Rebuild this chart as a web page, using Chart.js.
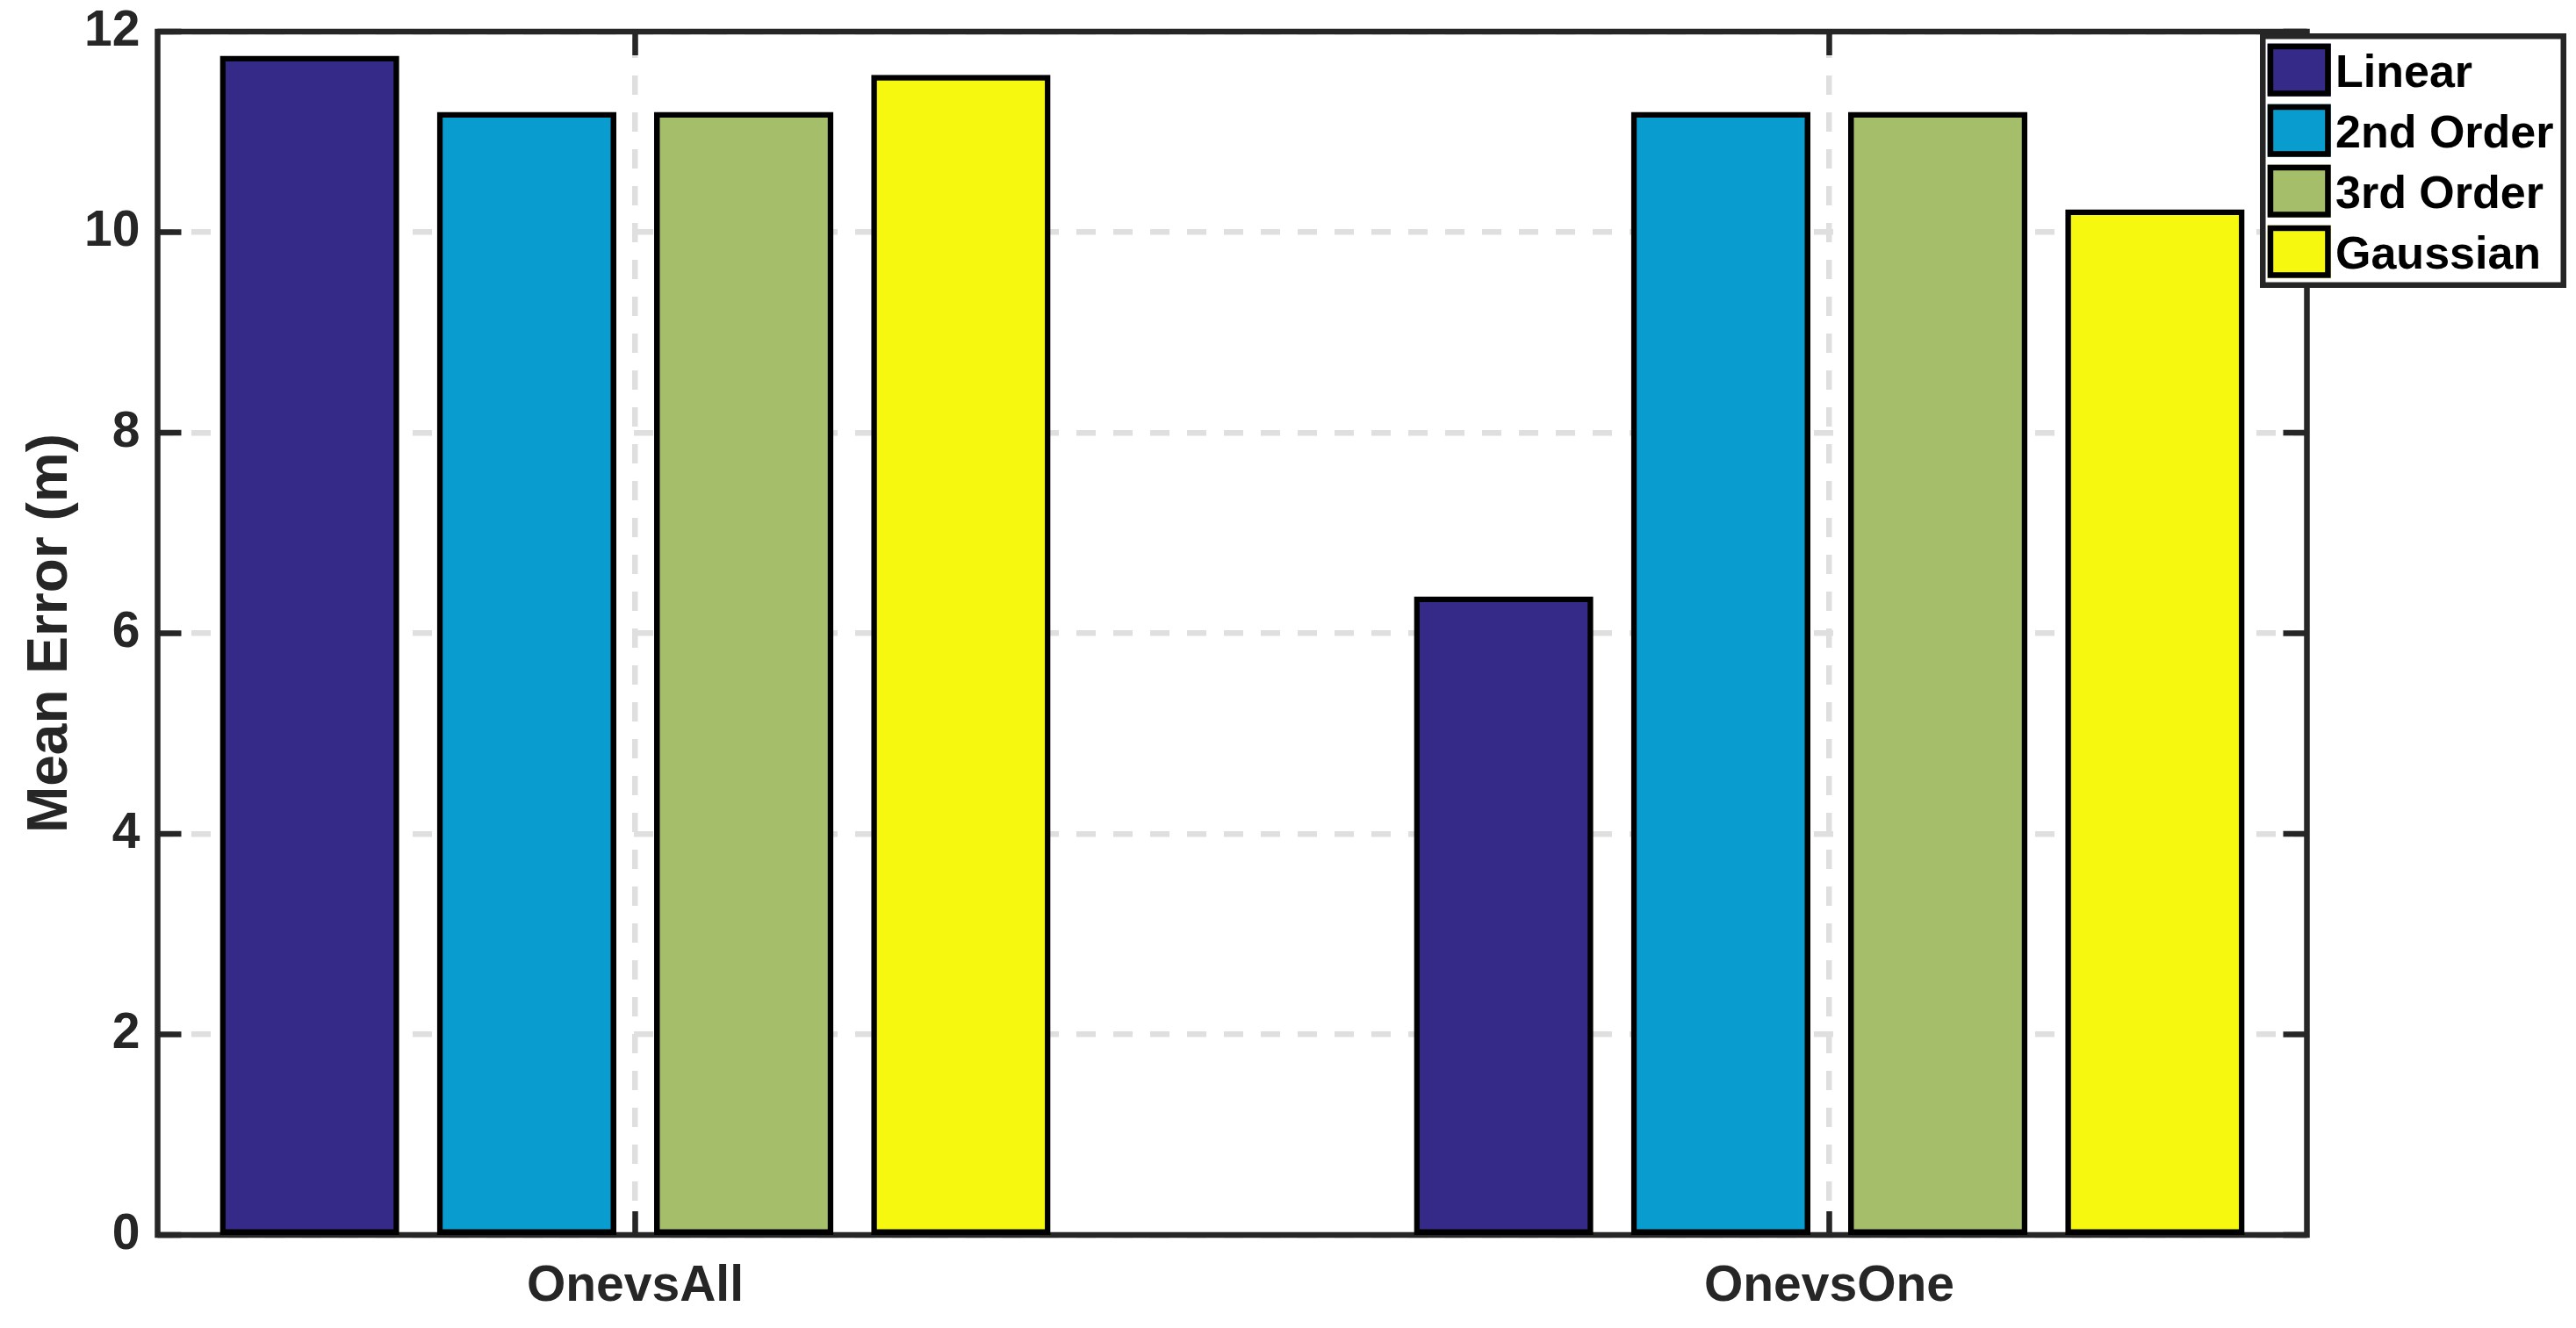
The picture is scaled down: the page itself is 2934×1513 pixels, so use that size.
<!DOCTYPE html>
<html>
<head>
<meta charset="utf-8">
<script src="https://cdn.jsdelivr.net/npm/chart.js@4.4.1/dist/chart.umd.min.js"></script>
<style>
  html, body { margin: 0; padding: 0; background: #fff; }
  #wrap { width: 2934px; height: 1513px; }
</style>
</head>
<body>
<div id="wrap"><canvas id="chart" width="2934" height="1513"></canvas></div>
<script>
// data
const categories = ["OnevsAll", "OnevsOne"]
const categoryPos = [1, 2]
const seriesNames = ["Linear", "2nd Order", "3rd Order", "Gaussian"]
const linearErr = [11.73, 6.34]
const order2Err = [11.17, 11.17]
const order3Err = [11.17, 11.17]
const gaussianErr = [11.54, 10.20]
const seriesColors = ["#352a87", "#089dce", "#a5be6a", "#f6f90f"]
const yTicks = [0, 2, 4, 6, 8, 10, 12]

const FONT = "'Liberation Sans', Arial, Helvetica, sans-serif"
const AXIS = "#262626"
const tickLen = 27

function toPoints(values) {
    return values.map((v, i) => ({ x: categoryPos[i], y: v }))
}

const allSeries = [linearErr, order2Err, order3Err, gaussianErr]

// matlab style box with inward ticks
const axesFrame = {
    id: "axesFrame",
    beforeDatasetsDraw(chart) {
        const { ctx, chartArea: a, scales } = chart
        ctx.save()
        ctx.strokeStyle = AXIS
        ctx.lineWidth = 6.5
        ctx.beginPath()
        yTicks.forEach(v => {
            let y = scales.y.getPixelForValue(v)
            ctx.moveTo(a.left, y); ctx.lineTo(a.left + tickLen, y)
            ctx.moveTo(a.right, y); ctx.lineTo(a.right - tickLen, y)
        })
        categoryPos.forEach(v => {
            let x = scales.x.getPixelForValue(v)
            ctx.moveTo(x, a.top); ctx.lineTo(x, a.top + tickLen)
            ctx.moveTo(x, a.bottom); ctx.lineTo(x, a.bottom - tickLen)
        })
        ctx.stroke()
        ctx.lineJoin = "miter"
        ctx.strokeRect(a.left, a.top, a.right - a.left, a.bottom - a.top)
        ctx.restore()
    }
}

// legend box sitting on the top right corner
const boxLegend = {
    id: "boxLegend",
    afterDraw(chart) {
        const { ctx, chartArea: a } = chart
        const x0 = a.right - 53.5, y0 = a.top + 2
        const w = 349, h = 290
        ctx.save()
        ctx.fillStyle = "#fff"
        ctx.fillRect(x0, y0, w, h)
        ctx.strokeStyle = AXIS
        ctx.lineWidth = 6.5
        ctx.strokeRect(x0 + 3.25, y0 + 3.25, w - 6.5, h - 6.5)
        ctx.font = "bold 52px " + FONT
        ctx.textBaseline = "middle"
        ctx.textAlign = "left"
        chart.data.datasets.forEach((ds, i) => {
            let sx = x0 + 8.7, sy = y0 + 11.7 + i * 69
            ctx.fillStyle = ds.backgroundColor
            ctx.fillRect(sx, sy, 72, 60)
            ctx.strokeStyle = "#000"
            ctx.lineWidth = 6.5
            ctx.strokeRect(sx + 3.25, sy + 3.25, 72 - 6.5, 60 - 6.5)
            ctx.fillStyle = "#000"
            ctx.fillText(ds.label, x0 + 86, sy + 35)
        })
        ctx.restore()
    }
}

const chart = new Chart(document.getElementById("chart").getContext("2d"), {
    type: "bar",
    data: {
        datasets: seriesNames.map((name, i) => ({
            label: name,
            data: toPoints(allSeries[i]),
            backgroundColor: seriesColors[i],
            borderColor: "#000",
            borderWidth: 6.5,
            borderSkipped: false,
            inflateAmount: 3.25,
            categoryPercentage: 4 / 5.5,
            barPercentage: 0.8
        }))
    },
    options: {
        responsive: false,
        devicePixelRatio: 1,
        animation: false,
        layout: { padding: { left: 0, top: 36, right: 306.5, bottom: 0 } },
        plugins: {
            legend: { display: false },
            tooltip: { enabled: false }
        },
        scales: {
            x: {
                type: "linear",
                offset: false,
                min: 0.6,
                max: 2.4,
                afterBuildTicks: (scale) => {
                    scale.ticks = categoryPos.map(v => ({ value: v }))
                },
                afterFit: (scale) => { scale.height = 106 },
                grid: { offset: false, color: "#dfdfdf", lineWidth: 6.5, drawTicks: false },
                border: { display: false, dash: [22, 20], dashOffset: 34 },
                ticks: {
                    padding: 25,
                    color: AXIS,
                    font: { family: FONT, size: 57, weight: "bold" },
                    callback: (value) => categories[categoryPos.indexOf(value)]
                }
            },
            y: {
                min: 0,
                max: 12,
                afterBuildTicks: (scale) => {
                    scale.ticks = yTicks.map(v => ({ value: v }))
                },
                afterFit: (scale) => {
                    scale.width = 179.5
                    // the tick padding is horizontal only, do not push the plot down
                    scale.paddingTop = 0
                    scale.paddingBottom = 0
                },
                grid: { color: "#dfdfdf", lineWidth: 6.5, drawTicks: false },
                border: { display: false, dash: [22, 20], dashOffset: 4 },
                ticks: {
                    padding: 20,
                    color: AXIS,
                    font: { family: FONT, size: 57, weight: "bold" }
                },
                title: {
                    display: true,
                    text: "Mean Error (m)",
                    color: AXIS,
                    font: { family: FONT, size: 64, weight: "bold" },
                    padding: { top: 20, bottom: 0 }
                }
            }
        }
    },
    plugins: [axesFrame, boxLegend]
})
</script>
</body>
</html>
